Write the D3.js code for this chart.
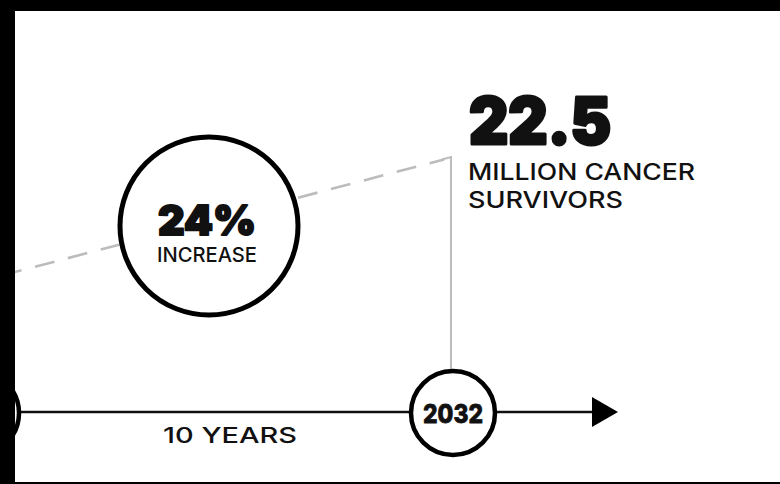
<!DOCTYPE html>
<html>
<head>
<meta charset="utf-8">
<script src="https://cdn.jsdelivr.net/npm/d3@7"></script>
<style>
	html, body {margin: 0; padding: 0; background: #000;}
	svg {display: block;}
	text {font-family: Inter, "Open Sans", sans-serif; fill: #111;}
	text.heavy {stroke: #111; stroke-linejoin: round;}
</style>
</head>
<body>
<div id="chart"></div>
<script>
(function(){
	// survivors in millions, 2022 -> 2032
	var years = [2022, 2032];
	var survivors = [18.1, 22.5];
	var valueLabel = '22.5';
	var valueCaption = ['MILLION CANCER', 'SURVIVORS'];
	var changeLabel = '24%';
	var changeCaption = 'INCREASE';
	var spanLabel = '10 YEARS';

	var width = 780, height = 484;

	var svg = d3.select('#chart')
		.append('svg')
			.attr('width', width)
			.attr('height', height);

	// white panel inside the black frame
	svg.append('rect')
		.attr('x', 15).attr('y', 11)
		.attr('width', width - 15).attr('height', 471)
		.attr('fill', '#fff');

	var panel = svg.append('g');
	svg.append('clipPath').attr('id', 'panel')
		.append('rect').attr('x', 15).attr('y', 11).attr('width', width - 15).attr('height', 471);
	panel.attr('clip-path', 'url(#panel)');

	var x = d3.scaleLinear().domain(years).range([-23, 453]);
	var y = d3.scaleLinear().domain(survivors).range([282, 157]);
	var axisY = 412, r = 42;

	// dashed growth line
	panel.append('path')
		.datum([survivors[0], survivors[1]])
		.attr('d', function(d) {
			var p0 = [x(years[0]), y(d[0])], p1 = [x(years[1]) - 9, y(d[1]) + 2.4];
			return 'M' + p0 + 'L' + p1;
		})
		.attr('fill', 'none')
		.attr('stroke', '#bcbcbc')
		.attr('stroke-width', 2.6)
		.attr('stroke-dasharray', '20 14')
		.attr('stroke-dashoffset', 8);

	// leader from value down to the year marker
	panel.append('path')
		.attr('d', 'M' + (x(2032) - 11) + ',' + (y(22.5) + 2.5) +
			'L' + (x(2032) - 2) + ',' + y(22.5) +
			'L' + (x(2032) - 2) + ',' + (axisY - r))
		.attr('fill', 'none')
		.attr('stroke', '#bcbcbc')
		.attr('stroke-width', 2);

	// time axis
	panel.append('line')
		.attr('x1', 0).attr('x2', 596)
		.attr('y1', axisY).attr('y2', axisY)
		.attr('stroke', '#111').attr('stroke-width', 2.5);
	panel.append('path')
		.attr('d', 'M592,' + (axisY - 15) + 'L618,' + axisY + 'L592,' + (axisY + 15) + 'Z')
		.attr('fill', '#000');

	panel.selectAll('circle.year')
		.data(years)
		.enter().append('circle')
			.attr('class', 'year')
			.attr('cx', function(d) {return x(d);})
			.attr('cy', axisY + 1)
			.attr('r', r)
			.attr('fill', '#fff')
			.attr('stroke', '#000')
			.attr('stroke-width', 4.5);

	panel.append('text')
		.attr('class', 'heavy')
		.attr('x', x(2032)).attr('y', 423)
		.attr('text-anchor', 'middle')
		.attr('font-size', 26).attr('font-weight', 800)
		.attr('stroke-width', 0.8)
		.attr('textLength', 60).attr('lengthAdjust', 'spacingAndGlyphs')
		.text(years[1]);

	panel.append('text')
		.attr('x', 230).attr('y', 443)
		.attr('text-anchor', 'middle')
		.attr('font-size', 22).attr('font-weight', 500)
		.attr('textLength', 134).attr('lengthAdjust', 'spacingAndGlyphs')
		.text(spanLabel);

	// percent change badge
	var cx = 209, cy = 226;
	panel.append('circle')
		.attr('cx', cx).attr('cy', cy).attr('r', 89)
		.attr('fill', '#fff')
		.attr('stroke', '#000')
		.attr('stroke-width', 5);
	panel.append('text')
		.attr('class', 'heavy')
		.attr('x', cx - 2).attr('y', 235)
		.attr('text-anchor', 'middle')
		.attr('font-size', 41).attr('font-weight', 900)
		.attr('stroke-width', 2)
		.attr('textLength', 98).attr('lengthAdjust', 'spacingAndGlyphs')
		.text(changeLabel);
	panel.append('text')
		.attr('x', cx - 2).attr('y', 262)
		.attr('text-anchor', 'middle')
		.attr('font-size', 20).attr('font-weight', 500)
		.attr('textLength', 100).attr('lengthAdjust', 'spacingAndGlyphs')
		.text(changeCaption);

	// end value
	panel.append('text')
		.attr('class', 'heavy')
		.attr('x', 469).attr('y', 144)
		.attr('font-size', 64).attr('font-weight', 900)
		.attr('stroke-width', 3)
		.attr('textLength', 142).attr('lengthAdjust', 'spacingAndGlyphs')
		.text(valueLabel);
	panel.selectAll('text.caption')
		.data(valueCaption)
		.enter().append('text')
			.attr('class', 'caption')
			.attr('x', 468)
			.attr('y', function(d, i) {return 180 + i * 28;})
			.attr('font-size', 23).attr('font-weight', 500)
			.attr('textLength', function(d, i) {return i ? 155 : 227;})
			.attr('lengthAdjust', 'spacingAndGlyphs')
			.text(function(d) {return d;});
})();
</script>
</body>
</html>
